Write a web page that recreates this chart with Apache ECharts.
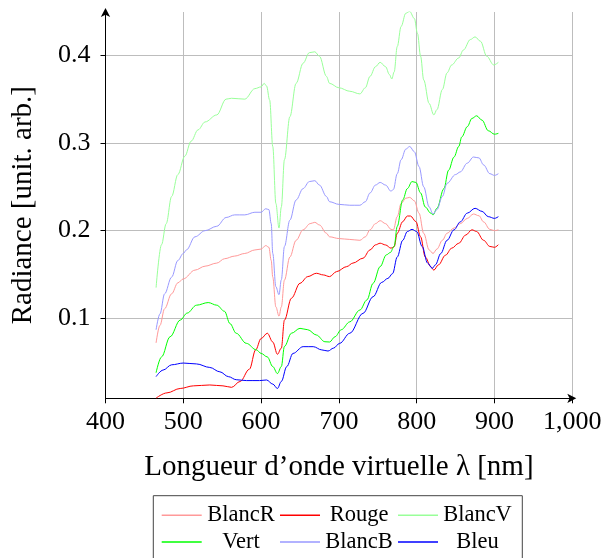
<!DOCTYPE html>
<html><head><meta charset="utf-8">
<script src="https://cdn.jsdelivr.net/npm/echarts@6/dist/echarts.min.js"></script>
<style>html,body{margin:0;padding:0;background:#fff}#c{width:606px;height:558px}</style>
</head><body><div id="c"></div>
<script>
// ---- data (wavelength nm, radiance) ----
const seriesNames = ['BlancR', 'Rouge', 'BlancV', 'Vert', 'BlancB', 'Bleu'];
const seriesColors = ['#ff9999', '#ff0000', '#99ff99', '#00ff00', '#9999ff', '#0000ff'];

const blancR = [[465,0.072],[470,0.092],[476,0.111],[485,0.128],[493,0.1405],[500,0.145],[515,0.155],[528,0.1595],[543,0.163],[553,0.168],[566,0.171],[579,0.174],[592,0.178],[600,0.179],[606,0.183],[610,0.181],[613,0.166],[615,0.147],[619,0.113],[623,0.1025],[626,0.113],[630,0.1436],[637,0.170],[645,0.189],[654,0.201],[663,0.208],[669,0.2095],[675,0.2065],[684,0.197],[688,0.193],[700,0.191],[714,0.190],[727,0.189],[734,0.193],[740,0.201],[747,0.208],[753,0.2114],[760,0.208],[767,0.2015],[770,0.201],[775,0.216],[780,0.231],[786,0.237],[791,0.238],[797,0.234],[803,0.220],[809,0.197],[816,0.178],[821,0.174],[826,0.179],[833,0.189],[839,0.197],[848,0.203],[856,0.208],[865,0.214],[873,0.219],[880,0.217],[886,0.210],[894,0.2015],[900,0.200],[905,0.201]];

const rouge = [[465,0.009],[479,0.015],[496,0.020],[513,0.023],[534,0.024],[551,0.023],[562,0.0213],[573,0.028],[585,0.042],[593,0.064],[600,0.077],[608,0.083],[615,0.073],[621,0.059],[626,0.066],[630,0.098],[639,0.123],[650,0.140],[660,0.1476],[671,0.1514],[680,0.1495],[688,0.1476],[697,0.1533],[710,0.159],[718,0.163],[731,0.1686],[740,0.178],[747,0.1838],[753,0.1857],[760,0.1837],[767,0.180],[771,0.1817],[775,0.197],[782,0.2103],[788,0.2167],[792,0.2167],[799,0.2103],[805,0.193],[811,0.170],[818,0.159],[822,0.155],[828,0.161],[837,0.172],[845,0.180],[854,0.1856],[863,0.195],[871,0.201],[877,0.199],[886,0.189],[894,0.182],[900,0.181],[905,0.184]];

const blancV = [[465,0.135],[472,0.184],[478,0.208],[485,0.239],[493,0.264],[502,0.285],[510,0.302],[519,0.315],[528,0.324],[543,0.332],[555,0.350],[562,0.351],[579,0.350],[592,0.362],[600,0.364],[604,0.368],[607,0.365],[611,0.349],[615,0.296],[619,0.231],[623,0.203],[626,0.227],[630,0.281],[637,0.330],[645,0.368],[654,0.391],[662,0.403],[669,0.404],[675,0.399],[684,0.376],[688,0.368],[700,0.363],[714,0.359],[727,0.356],[734,0.363],[740,0.376],[747,0.387],[753,0.392],[760,0.387],[765,0.378],[768,0.373],[771,0.381],[775,0.410],[780,0.433],[786,0.448],[791,0.450],[797,0.442],[801,0.425],[805,0.399],[809,0.372],[816,0.345],[822,0.332],[826,0.338],[833,0.361],[839,0.380],[845,0.389],[854,0.397],[860,0.406],[869,0.418],[875,0.421],[882,0.416],[890,0.399],[899,0.389],[905,0.392]];

const vert = [[465,0.038],[472,0.056],[483,0.079],[496,0.098],[505,0.106],[517,0.115],[532,0.118],[543,0.115],[553,0.108],[560,0.094],[568,0.083],[581,0.0715],[594,0.064],[600,0.060],[608,0.056],[615,0.045],[621,0.037],[626,0.045],[630,0.068],[639,0.083],[650,0.0886],[660,0.087],[671,0.081],[682,0.0733],[688,0.073],[695,0.079],[703,0.087],[714,0.096],[727,0.1095],[736,0.121],[744,0.140],[753,0.159],[761,0.1724],[766,0.175],[771,0.182],[775,0.205],[782,0.235],[788,0.248],[794,0.256],[799,0.255],[805,0.243],[811,0.227],[818,0.220],[821,0.218],[826,0.2255],[835,0.248],[841,0.269],[848,0.284],[854,0.296],[858,0.307],[865,0.3186],[871,0.328],[877,0.331],[884,0.326],[892,0.314],[900,0.310],[905,0.311]];

const blancB = [[465,0.087],[470,0.105],[476,0.128],[485,0.147],[493,0.166],[500,0.174],[504,0.178],[515,0.193],[528,0.200],[543,0.205],[555,0.215],[566,0.218],[579,0.218],[592,0.221],[600,0.221],[606,0.225],[610,0.224],[613,0.208],[615,0.174],[619,0.136],[623,0.127],[626,0.144],[630,0.182],[637,0.212],[645,0.235],[654,0.248],[662,0.256],[669,0.257],[675,0.252],[684,0.239],[688,0.233],[700,0.230],[714,0.229],[727,0.229],[734,0.233],[740,0.243],[747,0.252],[753,0.255],[760,0.252],[767,0.245],[770,0.247],[775,0.265],[780,0.281],[786,0.293],[791,0.296],[797,0.290],[803,0.273],[809,0.250],[816,0.227],[821,0.219],[826,0.224],[833,0.239],[839,0.254],[850,0.264],[856,0.267],[865,0.277],[873,0.284],[880,0.283],[886,0.275],[894,0.265],[900,0.263],[905,0.265]];

const bleu = [[465,0.0335],[474,0.041],[485,0.047],[500,0.049],[517,0.048],[534,0.044],[547,0.039],[558,0.0335],[568,0.030],[581,0.029],[598,0.029],[607,0.0297],[615,0.025],[621,0.020],[626,0.028],[633,0.045],[641,0.060],[654,0.0677],[667,0.0677],[678,0.064],[686,0.0627],[693,0.066],[701,0.0715],[714,0.083],[731,0.1057],[744,0.1247],[755,0.141],[763,0.1456],[769,0.151],[775,0.170],[782,0.189],[788,0.199],[794,0.2015],[800,0.199],[807,0.182],[814,0.163],[820,0.157],[824,0.161],[831,0.174],[839,0.189],[848,0.201],[856,0.210],[865,0.220],[875,0.2255],[884,0.222],[892,0.216],[900,0.214],[905,0.216]];

const seriesData = [blancR, rouge, blancV, vert, blancB, bleu];

const xTicks = [400, 500, 600, 700, 800, 900, 1000];
const xTickLabels = ['400', '500', '600', '700', '800', '900', '1,000'];
const yTicks = [0.1, 0.2, 0.3, 0.4];
const yTickLabels = ['0.1', '0.2', '0.3', '0.4'];
const xRange = [400, 1000];
const yRange = [0.0088, 0.4494];
const xTitle = 'Longueur d\u2019onde virtuelle \u03bb [nm]';
const yTitle = 'Radiance [unit. arb.]';

// ---- chart ----
const FONT = 'Liberation Serif';
const chart = echarts.init(document.getElementById('c'), null, {renderer: 'canvas'});

const legendFontSize = 22.5;
const cnv = document.createElement('canvas').getContext('2d');
cnv.font = legendFontSize + 'px "' + FONT + '"';
const rowsY = [515.3, 542];
const iconLefts = [161.7, 280, 398];
const textCenters = [241, 359, 477.5];
const legends = seriesNames.map((name, i) => {
  const row = Math.floor(i / 3), col = i % 3;
  const w = cnv.measureText(name).width;
  const pad = textCenters[col] - w / 2 - (iconLefts[col] + 40 + 5);
  return {
    data: [{name: name, icon: 'rect', textStyle: {padding: [0, 0, 0, pad]}}],
    left: iconLefts[col], top: rowsY[row] - 11.5,
    itemWidth: 40, itemHeight: 1.6, itemGap: 0, padding: 0,
    selectedMode: false,
    textStyle: {fontFamily: FONT, fontSize: legendFontSize, color: '#000'}
  };
});

const option = {
  animation: false,
  backgroundColor: '#fff',
  grid: {left: 105.5, right: 33.7, top: 12, bottom: 159.7, containLabel: false},
  xAxis: {
    type: 'value', min: xRange[0], max: xRange[1], interval: 100,
    name: xTitle, nameLocation: 'middle', nameGap: 55,
    nameTextStyle: {fontFamily: FONT, fontSize: 29, color: '#000'},
    axisLine: {show: true, onZero: false, lineStyle: {color: '#000', width: 1}, symbol: ['none', 'arrow'], symbolSize: [7, 9], symbolOffset: [0, 4]},
    axisTick: {show: true, length: 5, lineStyle: {color: '#000'}},
    axisLabel: {fontFamily: FONT, fontSize: 26, color: '#000', margin: 11,
      formatter: v => { const k = xTicks.indexOf(v); return k >= 0 ? xTickLabels[k] : ''; }},
    splitLine: {show: true, lineStyle: {color: '#bdbdbd', width: 1}}
  },
  yAxis: {
    type: 'value', min: yRange[0], max: yRange[1],
    name: yTitle, nameLocation: 'middle', nameGap: 68, nameRotate: 90,
    nameTextStyle: {fontFamily: FONT, fontSize: 29, color: '#000'},
    axisLine: {show: true, onZero: false, lineStyle: {color: '#000', width: 1}, symbol: ['none', 'arrow'], symbolSize: [7, 9], symbolOffset: [0, 4]},
    axisTick: {show: true, length: 5, customValues: yTicks, lineStyle: {color: '#000'}},
    axisLabel: {fontFamily: FONT, fontSize: 26, color: '#000', margin: 15, customValues: yTicks,
      formatter: v => { const k = yTicks.findIndex(t => Math.abs(t - v) < 1e-9); return k >= 0 ? yTickLabels[k] : ''; }},
    splitLine: {show: true, lineStyle: {color: '#bdbdbd', width: 1}}
  },
  legend: legends,
  graphic: [{
    type: 'rect', shape: {x: 153.3, y: 495.7, width: 369, height: 80},
    style: {fill: 'none', stroke: '#444', lineWidth: 1}, silent: true
  }],
  series: seriesNames.map((name, i) => ({
    name: name, type: 'line', data: seriesData[i],
    symbol: 'none', showSymbol: false, smooth: 0.35, smoothMonotone: 'x',
    color: seriesColors[i],
    lineStyle: {color: seriesColors[i], width: 1},
    z: 2 + i
  }))
};
chart.setOption(option);
</script></body></html>
